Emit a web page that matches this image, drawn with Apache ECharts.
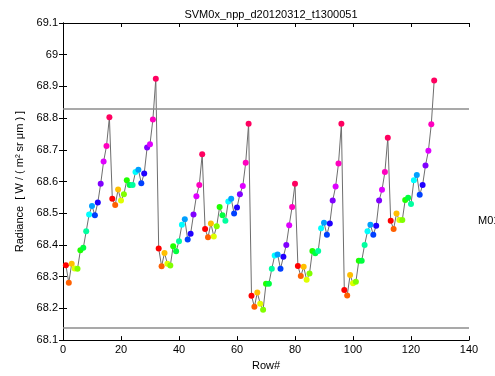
<!DOCTYPE html>
<html>
<head>
<meta charset="utf-8">
<script src="https://cdn.jsdelivr.net/npm/echarts@6/dist/echarts.min.js"></script>
<style>
  html, body { margin: 0; padding: 0; background: #fff; }
  #chart { width: 495px; height: 376px; }
</style>
</head>
<body>
<div id="chart"></div>
<script>
// Scan title and axis text
const chartTitle = 'SVM0x_npp_d20120312_t1300051';
const xName = 'Row#';
const yName = 'Radiance  [ W / ( m\u00B2 sr \u03BCm ) ]';
const bandLabel = 'M01';

// Axis ranges and ticks
const xMin = 0, xMax = 140, xStep = 20;
const yMin = 68.1, yMax = 69.1, yStep = 0.1;

// Radiance per scan row (rows 1..128, 16 detectors per scan)
const radiance = [
  68.336, 68.281, 68.341, 68.326, 68.325, 68.383, 68.391, 68.443, 68.496, 68.523, 68.494, 68.534, 68.593, 68.663, 68.712, 68.803,
  68.546, 68.526, 68.575, 68.540, 68.560, 68.604, 68.589, 68.589, 68.630, 68.637, 68.595, 68.625, 68.707, 68.718, 68.796, 68.924,
  68.389, 68.333, 68.375, 68.341, 68.335, 68.396, 68.380, 68.412, 68.464, 68.481, 68.417, 68.435, 68.496, 68.554, 68.589, 68.686,
  68.450, 68.424, 68.468, 68.427, 68.459, 68.520, 68.494, 68.476, 68.537, 68.546, 68.499, 68.518, 68.560, 68.586, 68.659, 68.782,
  68.240, 68.205, 68.250, 68.215, 68.196, 68.278, 68.278, 68.325, 68.367, 68.370, 68.325, 68.363, 68.400, 68.462, 68.520, 68.593,
  68.334, 68.302, 68.331, 68.290, 68.310, 68.381, 68.374, 68.381, 68.453, 68.470, 68.432, 68.468, 68.540, 68.584, 68.657, 68.782,
  68.258, 68.241, 68.305, 68.279, 68.284, 68.350, 68.350, 68.400, 68.443, 68.464, 68.432, 68.461, 68.540, 68.574, 68.630, 68.738,
  68.476, 68.450, 68.499, 68.479, 68.479, 68.542, 68.549, 68.529, 68.604, 68.621, 68.558, 68.589, 68.651, 68.697, 68.781, 68.919
];
const firstRow = 1;
const rows = radiance.map((_, i) => firstRow + i);

// Upper and lower limit lines
const limitLines = [68.826, 68.142];

// One colour per detector (hsv wheel, 16 steps)
const detectorColors = [
  '#FF0000', '#FF6000', '#FFBF00', '#DFFF00', '#80FF00', '#20FF00', '#00FF40', '#00FF9F',
  '#00FFFF', '#009FFF', '#0040FF', '#2000FF', '#8000FF', '#DF00FF', '#FF00BF', '#FF0060'
];

const font = 'Arial, "Liberation Sans", Helvetica, sans-serif';
const chart = echarts.init(document.getElementById('chart'), null, { renderer: 'canvas' });

const fmt = v => String(Math.round(v * 10) / 10);

const frameAxis = {
  axisLine: { show: true, lineStyle: { color: '#000', width: 1 } },
  axisTick: { show: true, inside: true, length: 4, lineStyle: { color: '#000' } },
  splitLine: { show: false }
};

chart.setOption({
  animation: false,
  backgroundColor: '#fff',
  title: {
    text: chartTitle,
    left: 266, top: 4, textAlign: 'center',
    textStyle: { fontFamily: font, fontSize: 11, fontWeight: 'normal', color: '#000' }
  },
  grid: { left: 63, right: 26, top: 23, bottom: 32, containLabel: false },
  xAxis: [
    Object.assign({
      type: 'value', min: xMin, max: xMax, interval: xStep, position: 'bottom',
      name: xName, nameLocation: 'middle', nameGap: 18,
      nameTextStyle: { fontFamily: font, fontSize: 11, color: '#000' },
      axisLabel: { fontFamily: font, fontSize: 11, color: '#000', margin: 4 }
    }, frameAxis),
    Object.assign({
      type: 'value', min: xMin, max: xMax, interval: xStep, position: 'top',
      axisLabel: { show: false }
    }, frameAxis)
  ],
  yAxis: [
    Object.assign({
      type: 'value', min: yMin, max: yMax, interval: yStep, position: 'left',
      name: yName, nameLocation: 'middle', nameGap: 37,
      nameTextStyle: { fontFamily: font, fontSize: 11, color: '#000' },
      axisLabel: { fontFamily: font, fontSize: 11, color: '#000', margin: 5, formatter: fmt }
    }, frameAxis),
    Object.assign({
      type: 'value', min: yMin, max: yMax, interval: yStep, position: 'right',
      axisLabel: { show: false }
    }, frameAxis)
  ],
  graphic: [{
    type: 'text', left: 478, top: 215,
    style: { text: bandLabel, fontFamily: font, fontSize: 11, fill: '#000' }
  }],
  series: [{
    type: 'line',
    xAxisIndex: 0, yAxisIndex: 0,
    data: rows.map((r, i) => [r, radiance[i]]),
    symbol: 'circle', symbolSize: 6,
    showSymbol: true,
    lineStyle: { color: '#6e6e6e', width: 1 },
    itemStyle: { color: p => detectorColors[(p.dataIndex) % detectorColors.length], borderWidth: 0 },
    markLine: {
      silent: true, symbol: 'none',
      label: { show: false },
      lineStyle: { color: '#8c8c8c', width: 1.5, type: 'solid' },
      data: limitLines.map(v => ({ yAxis: v }))
    },
    z: 3
  }]
});
</script>
</body>
</html>
